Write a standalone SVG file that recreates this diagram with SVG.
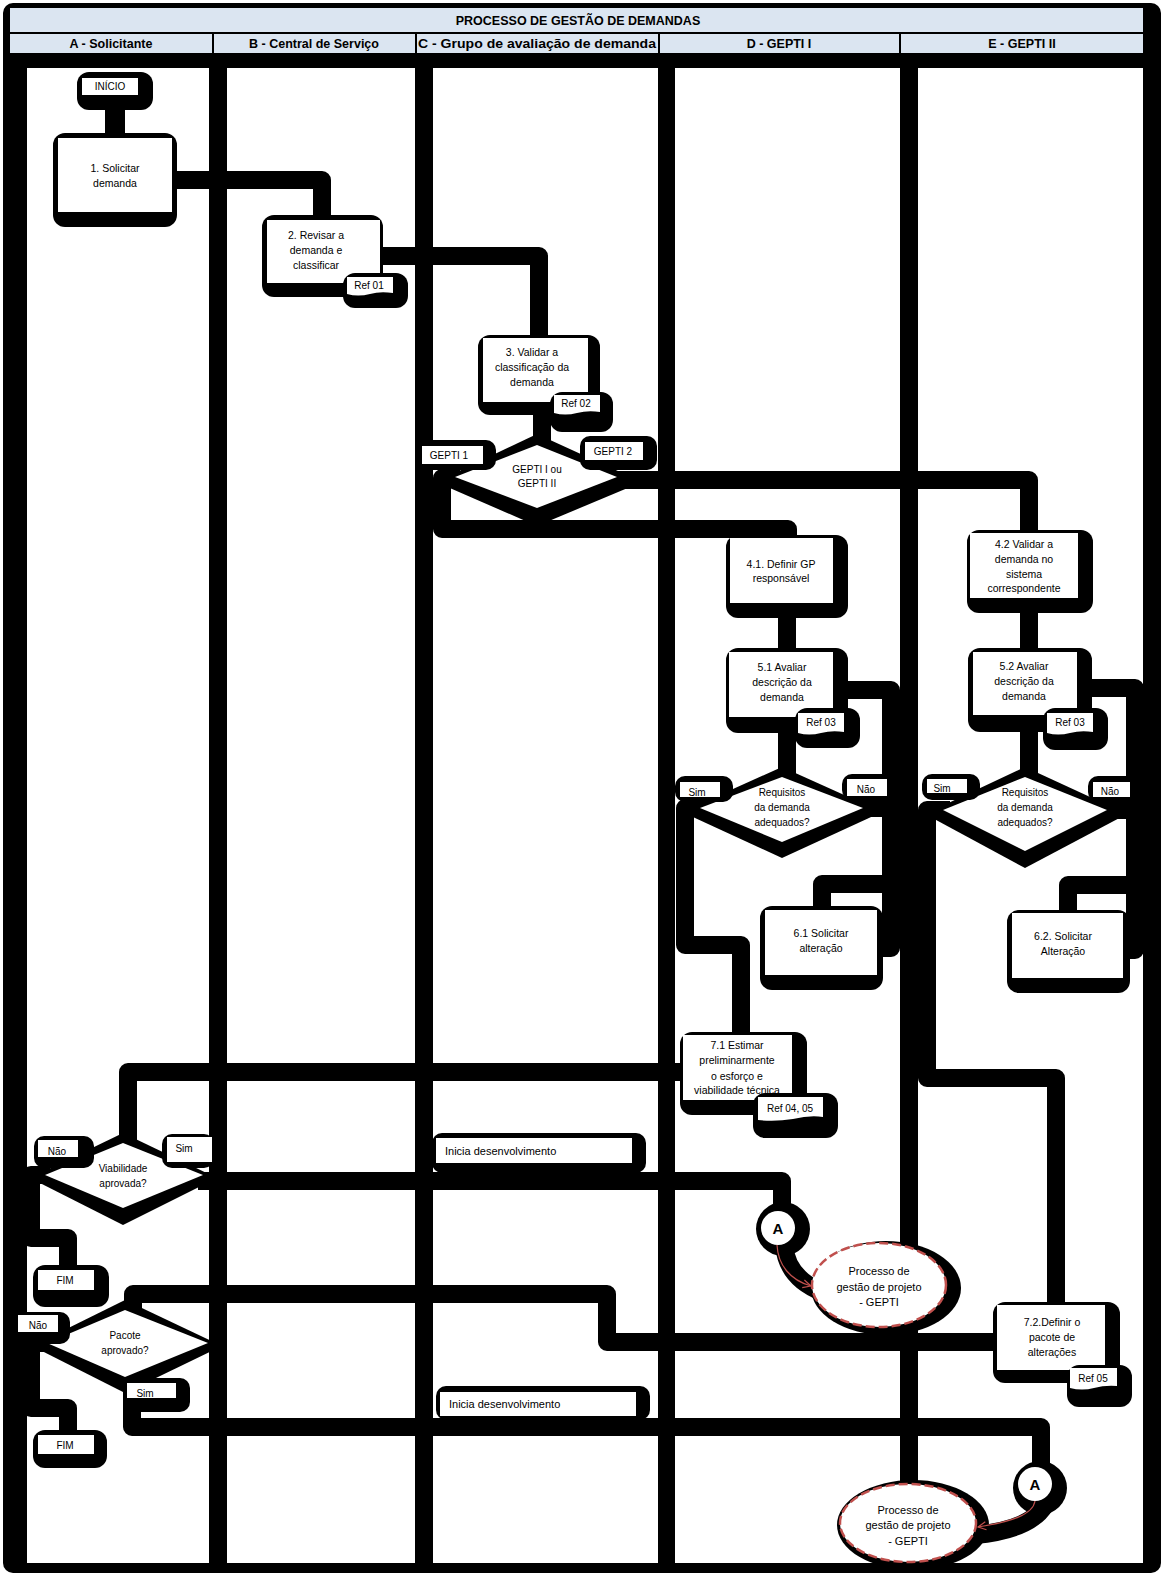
<svg xmlns="http://www.w3.org/2000/svg" width="1161" height="1575" viewBox="0 0 1161 1575">
<style>
.hdr{fill:#dbe5f1}
.lane{fill:#fff}
.sh{fill:#000}
.bx{fill:#fff}
.t{font-family:"Liberation Sans",Arial,sans-serif;font-size:10.5px;fill:#000;text-anchor:middle}
.tl{font-family:"Liberation Sans",Arial,sans-serif;font-size:11px;fill:#000}
.th{font-family:"Liberation Sans",Arial,sans-serif;font-size:12.5px;font-weight:bold;fill:#000;text-anchor:middle}
.ts{font-family:"Liberation Sans",Arial,sans-serif;font-size:10px;fill:#000;text-anchor:middle}
.te{font-family:"Liberation Sans",Arial,sans-serif;font-size:11px;fill:#000;text-anchor:middle}
.ta{font-family:"Liberation Sans",Arial,sans-serif;font-size:15px;font-weight:bold;fill:#000;text-anchor:middle}
.ell{fill:#fff;stroke:#c0504d;stroke-width:2.5;stroke-dasharray:9 4}
.red{fill:none;stroke:#c0504d;stroke-width:1.2}
</style>
<defs>
<marker id="arr" markerWidth="10" markerHeight="10" refX="9" refY="5" orient="auto" markerUnits="userSpaceOnUse">
<path d="M1 1 L9 5 L1 9" fill="none" stroke="#c0504d" stroke-width="1.2"/>
</marker>
</defs>

<g id="frame">
<rect x="3" y="3" width="1158" height="1570" rx="10" fill="#000"/>
<rect class="hdr" x="10" y="8" width="1133" height="24"/>
<text class="th" x="578" y="25" font-size="13">PROCESSO DE GESTÃO DE DEMANDAS</text>
<rect class="hdr" x="10" y="34" width="202" height="19"/>
<rect class="hdr" x="214" y="34" width="201" height="19"/>
<rect class="hdr" x="417" y="34" width="241" height="19"/>
<rect class="hdr" x="660" y="34" width="239" height="19"/>
<rect class="hdr" x="901" y="34" width="242" height="19"/>
<text class="th" x="111" y="48">A - Solicitante</text>
<text class="th" x="314" y="48">B - Central de Serviço</text>
<text class="th" x="537" y="48" textLength="238" lengthAdjust="spacingAndGlyphs">C - Grupo de avaliação de demanda</text>
<text class="th" x="779" y="48">D - GEPTI I</text>
<text class="th" x="1022" y="48">E - GEPTI II</text>
<rect class="lane" x="27" y="68" width="182" height="1495"/>
<rect class="lane" x="227" y="68" width="188" height="1495"/>
<rect class="lane" x="433" y="68" width="225" height="1495"/>
<rect class="lane" x="675" y="68" width="225" height="1495"/>
<rect class="lane" x="918" y="68" width="225" height="1495"/>
</g>

<g id="connectors" fill="none" stroke="#000" stroke-width="18" stroke-linejoin="round">
<path d="M115 100 V140" stroke-width="20"/>
<path d="M170 180 H322 V220"/>
<path d="M378 256 H539 V340"/>
<path d="M542 410 V448"/>
<path d="M460 478 H442 V529 H788 V540"/>
<path d="M610 480 H1029 V535"/>
<path d="M787 612 V655"/>
<path d="M1029 608 V655"/>
<path d="M787 725 V780"/>
<path d="M1029 725 V780"/>
<path d="M855 808 H891 V884 H822 V912"/>
<path d="M875 948 H891 V690 H840"/>
<path d="M705 808 H685 V945 H741 V1038"/>
<path d="M690 1072 H128 V1148"/>
<path d="M198 1181 H782 V1212"/>
<path d="M50 1175 H31 V1238 H68 V1272"/>
<path d="M1100 810 H1135 V885 H1068 V915"/>
<path d="M1125 950 H1135 V688 H1085"/>
<path d="M950 810 H927 V1078 H1056 V1305"/>
<path d="M1000 1342 H607 V1294 H133 V1313"/>
<path d="M52 1343 H31 V1408 H68 V1437"/>
<path d="M132 1370 V1427 H1041 V1470"/>
<path d="M784 1245 Q787 1278 822 1292"/>
<path d="M1045 1505 Q1030 1530 975 1535"/>
</g>

<g id="inicio">
<rect class="sh" x="77" y="72" width="76" height="38" rx="12"/>
<rect class="bx" x="82" y="78" width="56" height="17"/>
<text class="ts" x="110" y="90">INÍCIO</text>
</g>

<g id="n1">
<rect class="sh" x="53" y="133" width="124" height="94" rx="12"/>
<rect class="bx" x="58" y="138" width="114" height="74"/>
<text class="t" x="115" y="172">1. Solicitar</text>
<text class="t" x="115" y="187">demanda</text>
</g>

<g id="n2">
<rect class="sh" x="262" y="215" width="121" height="82" rx="12"/>
<rect class="bx" x="267" y="220" width="113" height="63"/>
<text class="t" x="316" y="239">2. Revisar a</text>
<text class="t" x="316" y="254">demanda e</text>
<text class="t" x="316" y="269">classificar</text>
<rect class="sh" x="343" y="273" width="65" height="35" rx="12"/>
<path class="bx" d="M347 277 H393 V293 Q380 291 370 294 Q358 297 347 294 Z"/>
<text class="ts" x="369" y="289">Ref 01</text>
</g>

<g id="n3">
<rect class="sh" x="478" y="335" width="122" height="80" rx="12"/>
<rect class="bx" x="483" y="338" width="105" height="64"/>
<text class="t" x="532" y="356">3. Validar a</text>
<text class="t" x="532" y="371">classificação da</text>
<text class="t" x="532" y="386">demanda</text>
<rect class="sh" x="550" y="392" width="63" height="40" rx="12"/>
<path class="bx" d="M554 395 H600 V412 Q588 410 577 413 Q565 416 554 413 Z"/>
<text class="ts" x="576" y="407">Ref 02</text>
</g>

<g id="d1">
<polygon class="sh" points="436,482 537,434 642,482 537,526"/>
<polygon class="bx" points="455,477 537,445 617,477 537,508"/>
<text class="ts" x="537" y="473">GEPTI I ou</text>
<text class="ts" x="537" y="487">GEPTI II</text>
<rect class="sh" x="418" y="440" width="78" height="30" rx="10"/>
<rect class="bx" x="422" y="446" width="61" height="18"/>
<text class="ts" x="449" y="459">GEPTI 1</text>
<rect class="sh" x="580" y="436" width="77" height="34" rx="10"/>
<rect class="bx" x="585" y="442" width="58" height="18"/>
<text class="ts" x="613" y="455">GEPTI 2</text>
</g>

<g id="n41">
<rect class="sh" x="726" y="535" width="122" height="83" rx="12"/>
<rect class="bx" x="730" y="538" width="103" height="65"/>
<text class="t" x="781" y="568">4.1. Definir GP</text>
<text class="t" x="781" y="582">responsável</text>
</g>

<g id="n42">
<rect class="sh" x="967" y="530" width="126" height="83" rx="12"/>
<rect class="bx" x="970" y="533" width="108" height="65"/>
<text class="t" x="1024" y="548">4.2 Validar a</text>
<text class="t" x="1024" y="563">demanda no</text>
<text class="t" x="1024" y="578">sistema</text>
<text class="t" x="1024" y="592">correspondente</text>
</g>

<g id="n51">
<rect class="sh" x="726" y="648" width="122" height="85" rx="12"/>
<rect class="bx" x="729" y="652" width="104" height="65"/>
<text class="t" x="782" y="671">5.1 Avaliar</text>
<text class="t" x="782" y="686">descrição da</text>
<text class="t" x="782" y="701">demanda</text>
<rect class="sh" x="795" y="708" width="65" height="40" rx="12"/>
<path class="bx" d="M798 713 H844 V732 Q832 730 821 733 Q809 736 798 733 Z"/>
<text class="ts" x="821" y="726">Ref 03</text>
</g>

<g id="n52">
<rect class="sh" x="968" y="648" width="124" height="84" rx="12"/>
<rect class="bx" x="973" y="652" width="104" height="63"/>
<text class="t" x="1024" y="670">5.2 Avaliar</text>
<text class="t" x="1024" y="685">descrição da</text>
<text class="t" x="1024" y="700">demanda</text>
<rect class="sh" x="1043" y="708" width="65" height="42" rx="12"/>
<path class="bx" d="M1047 713 H1093 V732 Q1081 730 1070 733 Q1058 736 1047 733 Z"/>
<text class="ts" x="1070" y="726">Ref 03</text>
</g>

<g id="d2">
<polygon class="sh" points="682,812 782,767 882,812 782,858"/>
<polygon class="bx" points="700,808 782,777 863,808 782,842"/>
<text class="ts" x="782" y="796">Requisitos</text>
<text class="ts" x="782" y="811">da demanda</text>
<text class="ts" x="782" y="826">adequados?</text>
<rect class="sh" x="675" y="776" width="58" height="26" rx="10"/>
<rect class="bx" x="680" y="782" width="40" height="15"/>
<text class="ts" x="697" y="796">Sim</text>
<rect class="sh" x="842" y="774" width="50" height="26" rx="10"/>
<rect class="bx" x="847" y="779" width="40" height="17"/>
<text class="ts" x="866" y="793">Não</text>
</g>

<g id="d3">
<polygon class="sh" points="925,814 1025,767 1127,814 1025,868"/>
<polygon class="bx" points="943,810 1025,777 1107,810 1025,851"/>
<text class="ts" x="1025" y="796">Requisitos</text>
<text class="ts" x="1025" y="811">da demanda</text>
<text class="ts" x="1025" y="826">adequados?</text>
<rect class="sh" x="922" y="774" width="58" height="26" rx="10"/>
<rect class="bx" x="927" y="779" width="40" height="14"/>
<text class="ts" x="942" y="792">Sim</text>
<rect class="sh" x="1088" y="776" width="50" height="26" rx="10"/>
<rect class="bx" x="1093" y="782" width="37" height="15"/>
<text class="ts" x="1110" y="795">Não</text>
</g>

<g id="n61">
<rect class="sh" x="760" y="906" width="123" height="84" rx="12"/>
<rect class="bx" x="765" y="910" width="112" height="65"/>
<text class="t" x="821" y="937">6.1 Solicitar</text>
<text class="t" x="821" y="952">alteração</text>
</g>

<g id="n62">
<rect class="sh" x="1007" y="910" width="123" height="83" rx="12"/>
<rect class="bx" x="1012" y="913" width="111" height="65"/>
<text class="t" x="1063" y="940">6.2. Solicitar</text>
<text class="t" x="1063" y="955">Alteração</text>
</g>

<g id="n71">
<rect class="sh" x="680" y="1032" width="127" height="83" rx="12"/>
<rect class="bx" x="683" y="1035" width="109" height="65"/>
<text class="t" x="737" y="1049">7.1 Estimar</text>
<text class="t" x="737" y="1064">preliminarmente</text>
<text class="t" x="737" y="1080">o esforço e</text>
<text class="t" x="737" y="1094">viabilidade  técnica</text>
<rect class="sh" x="753" y="1093" width="85" height="45" rx="12"/>
<path class="bx" d="M758 1097 H823 V1117 Q810 1115 793 1119 Q775 1122 758 1120 Z"/>
<text class="ts" x="790" y="1112">Ref 04, 05</text>
</g>

<g id="d4">
<polygon class="sh" points="30,1178 123,1133 217,1178 123,1225"/>
<polygon class="bx" points="45,1175 123,1143 203,1175 123,1208"/>
<text class="ts" x="123" y="1172">Viabilidade</text>
<text class="ts" x="123" y="1187">aprovada?</text>
<rect class="sh" x="34" y="1136" width="60" height="32" rx="10"/>
<rect class="bx" x="38" y="1140" width="40" height="17"/>
<text class="ts" x="57" y="1155">Não</text>
<rect class="sh" x="162" y="1134" width="52" height="34" rx="10"/>
<rect class="bx" x="167" y="1137" width="45" height="25"/>
<text class="ts" x="184" y="1152">Sim</text>
</g>

<g id="lbl1">
<rect class="sh" x="432" y="1133" width="214" height="40" rx="10"/>
<rect class="bx" x="436" y="1138" width="196" height="25"/>
<text class="tl" x="445" y="1155">Inicia desenvolvimento</text>
</g>

<g id="fim1">
<rect class="sh" x="33" y="1265" width="76" height="42" rx="12"/>
<rect class="bx" x="38" y="1270" width="56" height="20"/>
<text class="ts" x="65" y="1284">FIM</text>
</g>

<g id="d5">
<polygon class="sh" points="32,1346 125,1300 222,1346 125,1393"/>
<polygon class="bx" points="47,1343 125,1310 208,1343 125,1377"/>
<text class="ts" x="125" y="1339">Pacote</text>
<text class="ts" x="125" y="1354">aprovado?</text>
<rect class="sh" x="16" y="1312" width="54" height="32" rx="10"/>
<rect class="bx" x="18" y="1315" width="40" height="17"/>
<text class="ts" x="38" y="1329">Não</text>
<rect class="sh" x="123" y="1378" width="67" height="34" rx="10"/>
<rect class="bx" x="127" y="1383" width="49" height="15"/>
<text class="ts" x="145" y="1397">Sim</text>
</g>

<g id="lbl2">
<rect class="sh" x="436" y="1386" width="214" height="34" rx="10"/>
<rect class="bx" x="440" y="1392" width="196" height="24"/>
<text class="tl" x="449" y="1408">Inicia desenvolvimento</text>
</g>

<g id="fim2">
<rect class="sh" x="33" y="1430" width="74" height="38" rx="12"/>
<rect class="bx" x="38" y="1435" width="56" height="19"/>
<text class="ts" x="65" y="1449">FIM</text>
</g>

<g id="n72">
<rect class="sh" x="993" y="1302" width="127" height="81" rx="12"/>
<rect class="bx" x="997" y="1305" width="108" height="65"/>
<text class="t" x="1052" y="1326">7.2.Definir o</text>
<text class="t" x="1052" y="1341">pacote de</text>
<text class="t" x="1052" y="1356">alterações</text>
<rect class="sh" x="1067" y="1365" width="65" height="42" rx="12"/>
<path class="bx" d="M1070 1368 H1117 V1386 Q1105 1385 1094 1388 Q1082 1391 1070 1388 Z"/>
<text class="ts" x="1093" y="1382">Ref 05</text>
</g>

<g id="a1">
<circle class="sh" cx="783" cy="1229" r="27"/>
<circle class="bx" cx="778" cy="1228" r="17"/>
<text class="ta" x="778" y="1234">A</text>
</g>

<g id="p1">
<ellipse class="sh" cx="886" cy="1288" rx="75" ry="47"/>
<ellipse class="ell" cx="879" cy="1285" rx="67" ry="42"/>
<text class="te" x="879" y="1275">Processo de</text>
<text class="te" x="879" y="1291">gestão de projeto</text>
<text class="te" x="879" y="1306">- GEPTI</text>
</g>

<g id="a2">
<circle class="sh" cx="1040" cy="1488" r="27"/>
<circle class="bx" cx="1035" cy="1484" r="17"/>
<text class="ta" x="1035" y="1490">A</text>
</g>

<g id="p2">
<ellipse class="sh" cx="913" cy="1525" rx="76" ry="45"/>
<ellipse class="ell" cx="908" cy="1523" rx="68" ry="39"/>
<text class="te" x="908" y="1514">Processo de</text>
<text class="te" x="908" y="1529">gestão de projeto</text>
<text class="te" x="908" y="1545">- GEPTI</text>
</g>

<g id="links">
<path class="red" d="M777 1245 C778 1265 790 1280 811 1286" marker-end="url(#arr)"/>
<path class="red" d="M1035 1501 C1033 1515 1010 1522 978 1527" marker-end="url(#arr)"/>
</g>
</svg>
